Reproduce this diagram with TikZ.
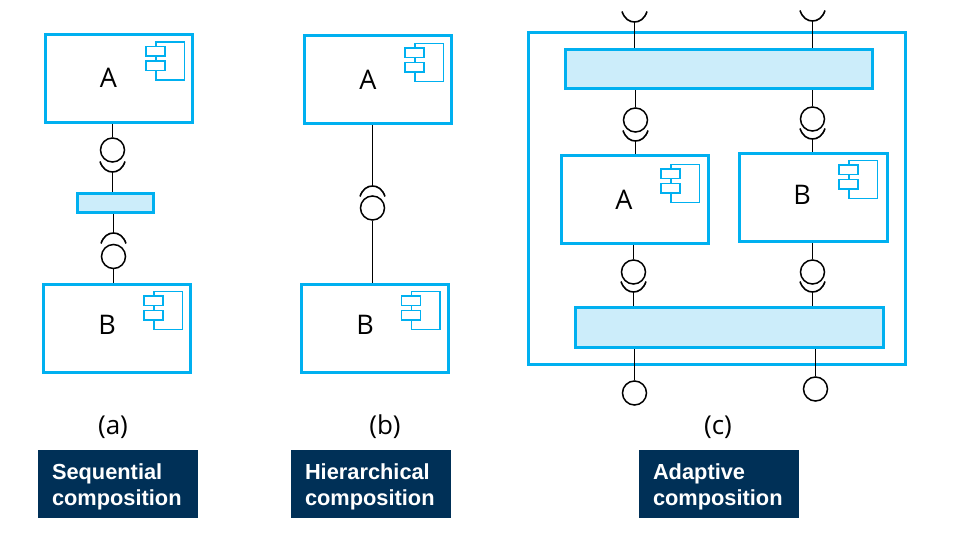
\documentclass[tikz,border=0pt]{standalone}
\usepackage{fontspec}
\setmainfont{Liberation Sans}
\newfontfamily\labelfont{Open Sans}
\definecolor{cyanline}{HTML}{00B0F0}
\definecolor{paleblue}{HTML}{CCEDFA}
\definecolor{navybox}{HTML}{003057}
\tikzset{
  compbox/.style={draw=cyanline,line width=3pt,fill=white,inner sep=0pt,minimum width=147pt,minimum height=88pt},
  busbox/.style={draw=cyanline,line width=3pt,fill=paleblue,inner sep=0pt},
  outerbox/.style={draw=cyanline,line width=3pt,inner sep=0pt},
  wire/.style={draw=black,line width=1.6pt},
  ballnode/.style={circle,draw=black,line width=1.5pt,fill=white,inner sep=0pt,minimum size=24pt},
  letter/.style={font=\labelfont\fontsize{27}{30}\selectfont,inner sep=0pt,text=black},
  caption/.style={font=\labelfont\fontsize{26}{30}\selectfont,inner sep=0pt,text=black},
  tagbox/.style={text=white,font=\bfseries\fontsize{21.8}{26}\selectfont,align=left,text width=132pt,inner xsep=14pt,inner ysep=0pt,minimum height=68pt,anchor=center},
  tagback/.style={fill=navybox},
  compicon/.pic={
    \draw[cyanline,line width=1.1pt] (10,-4.5) rectangle (38.5,33.5);
    \draw[cyanline,line width=1.1pt,fill=white] (0,0) rectangle (19,9.5);
    \draw[cyanline,line width=1.1pt,fill=white] (0,14.5) rectangle (19,24);
  },
  cupshape/.pic={
    \draw[wire] (-12.5,-10.5) .. controls (-10,-3) and (-5,0) .. (0,0) .. controls (5,0) and (10,-3) .. (12.5,-10.5);
  },
  capshape/.pic={
    \draw[wire] (-12.5,10.5) .. controls (-10,3) and (-5,0) .. (0,0) .. controls (5,0) and (10,3) .. (12.5,10.5);
  },
}
\begin{document}
\begin{tikzpicture}[x=1pt,y=-1pt]
\useasboundingbox (0,0) rectangle (954,537);
% (a)
\node[compbox] (aA) at (119,78.5) {};
\node[compbox] (aB) at (117,328.5) {};
\node[busbox,minimum width=76pt,minimum height=19pt] (aM) at (115.5,203) {};
\node[ballnode] (aT) at (112.5,150) {};
\node[ballnode] (aD) at (113.5,256.5) {};
\coordinate (aS1) at (112.5,172);
\coordinate (aS2) at (113.5,233);
\pic at (aS1) {cupshape};
\pic at (aS2) {capshape};
\draw[wire] (aT) -- (aT |- aA.south);
\draw[wire] (aS1) -- (aS1 |- aM.north);
\draw[wire] (aS2) -- (aS2 |- aM.south);
\draw[wire] (aD) -- (aD |- aB.north);
\pic at (146,46.5) {compicon};
\pic at (144,296) {compicon};
\node[letter] (aAl) at (108.5,78) {A};
\node[letter] (aBl) at (107,325) {B};
% (b)
\node[compbox] (bA) at (378,80) {};
\node[compbox] (bB) at (375,328.5) {};
\node[ballnode] (bC) at (372.5,208) {};
\coordinate (bS) at (372.5,186);
\pic at (bS) {capshape};
\draw[wire] (bS) -- (bS |- bA.south);
\draw[wire] (bC) -- (bC |- bB.north);
\pic at (405,48) {compicon};
\pic at (401.5,296) {compicon};
\node[letter] (bAl) at (368,80) {A};
\node[letter] (bBl) at (365,325) {B};
% (c)
\node[outerbox,minimum width=377pt,minimum height=332pt] (cO) at (716.5,198.5) {};
\node[busbox,minimum width=307pt,minimum height=39pt] (cTop) at (718.5,69) {};
\node[busbox,minimum width=308pt,minimum height=39.5pt] (cBot) at (729,327.5) {};
\node[compbox] (cA) at (634.5,199.5) {};
\node[compbox,minimum width=148pt] (cB) at (813,197.5) {};
\coordinate (cIn1) at (634.5,22);
\coordinate (cIn2) at (812.5,21);
\pic at (cIn1) {cupshape};
\pic at (cIn2) {cupshape};
\draw[wire] (cIn1) -- (cIn1 |- cTop.north);
\draw[wire] (cIn2) -- (cIn2 |- cTop.north);
\node[ballnode] (c1) at (635.5,120) {};
\node[ballnode] (c2) at (812.5,119) {};
\coordinate (c1s) at (635.5,141);
\coordinate (c2s) at (812.5,139);
\pic at (c1s) {cupshape};
\pic at (c2s) {cupshape};
\draw[wire] (c1) -- (c1 |- cTop.south);
\draw[wire] (c2) -- (c2 |- cTop.south);
\draw[wire] (c1s) -- (c1s |- cA.north);
\draw[wire] (c2s) -- (c2s |- cB.north);
\node[ballnode] (c3) at (633.5,272) {};
\node[ballnode] (c4) at (812.5,272) {};
\coordinate (c3s) at (633.5,292);
\coordinate (c4s) at (812.5,292);
\pic at (c3s) {cupshape};
\pic at (c4s) {cupshape};
\draw[wire] (c3) -- (c3 |- cA.south);
\draw[wire] (c4) -- (c4 |- cB.south);
\draw[wire] (c3s) -- (c3s |- cBot.north);
\draw[wire] (c4s) -- (c4s |- cBot.north);
\node[ballnode] (c5) at (634.5,393) {};
\node[ballnode] (c6) at (815.5,389) {};
\draw[wire] (c5) -- (c5 |- cBot.south);
\draw[wire] (c6) -- (c6 |- cBot.south);
\pic at (661,169) {compicon};
\pic at (839,165) {compicon};
\node[letter] (cAl) at (624,200) {A};
\node[letter] (cBl) at (802,195) {B};
% captions
\node[caption] (capa) at (113,427) {(a)};
\node[caption] (capb) at (385,427) {(b)};
\node[caption] (capc) at (718,427) {(c)};
\fill[tagback] (38,450) rectangle (198,518);
\fill[tagback] (291,450) rectangle (451,518);
\fill[tagback] (639,450) rectangle (799,518);
\node[tagbox] (taga) at (118,487) {Sequential\\composition};
\node[tagbox] (tagb) at (371,487) {Hierarchical\\composition};
\node[tagbox] (tagc) at (719,487) {Adaptive\\composition};
\end{tikzpicture}
\end{document}
